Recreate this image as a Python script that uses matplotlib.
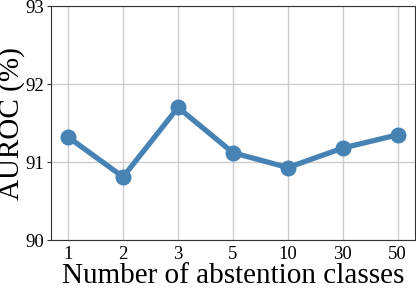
import matplotlib
matplotlib.use('Agg')
import matplotlib.pyplot as plt

# AUROC vs number of abstention classes
classes = ['1', '2', '3', '5', '10', '30', '50']
auroc = [91.32, 90.81, 91.70, 91.12, 90.93, 91.18, 91.35]

plt.rcParams['font.family'] = ['Liberation Serif', 'DejaVu Serif']

fig, ax = plt.subplots(figsize=(4.16, 2.91), dpi=100)

pos = list(range(len(classes)))
ax.plot(pos, auroc, color='#4682B4', linewidth=3.8, marker='o', markersize=10.5, zorder=3)

ax.set_xlim(-0.31, len(classes) - 1 + 0.31)
ax.set_ylim(90, 93)
ax.set_yticks([90, 91, 92, 93])
ax.set_xticks(pos)
ax.set_xticklabels(classes)
ax.tick_params(axis='both', labelsize=13.5, length=3, color='#333333')
ax.tick_params(axis='x', length=0, pad=4)
ax.tick_params(axis='y', pad=2)
ax.grid(True, color='#cccccc', linewidth=1)
ax.set_axisbelow(True)
for s in ax.spines.values():
    s.set_color('#333333')
    s.set_linewidth(0.8)

ax.set_xlabel('Number of abstention classes', fontsize=21, labelpad=0)
ax.set_ylabel('AUROC (%)', fontsize=21, labelpad=0)

plt.subplots_adjust(left=0.123, right=0.997, top=0.979, bottom=0.175)
plt.savefig('out.png', dpi=100)
plt.close()
